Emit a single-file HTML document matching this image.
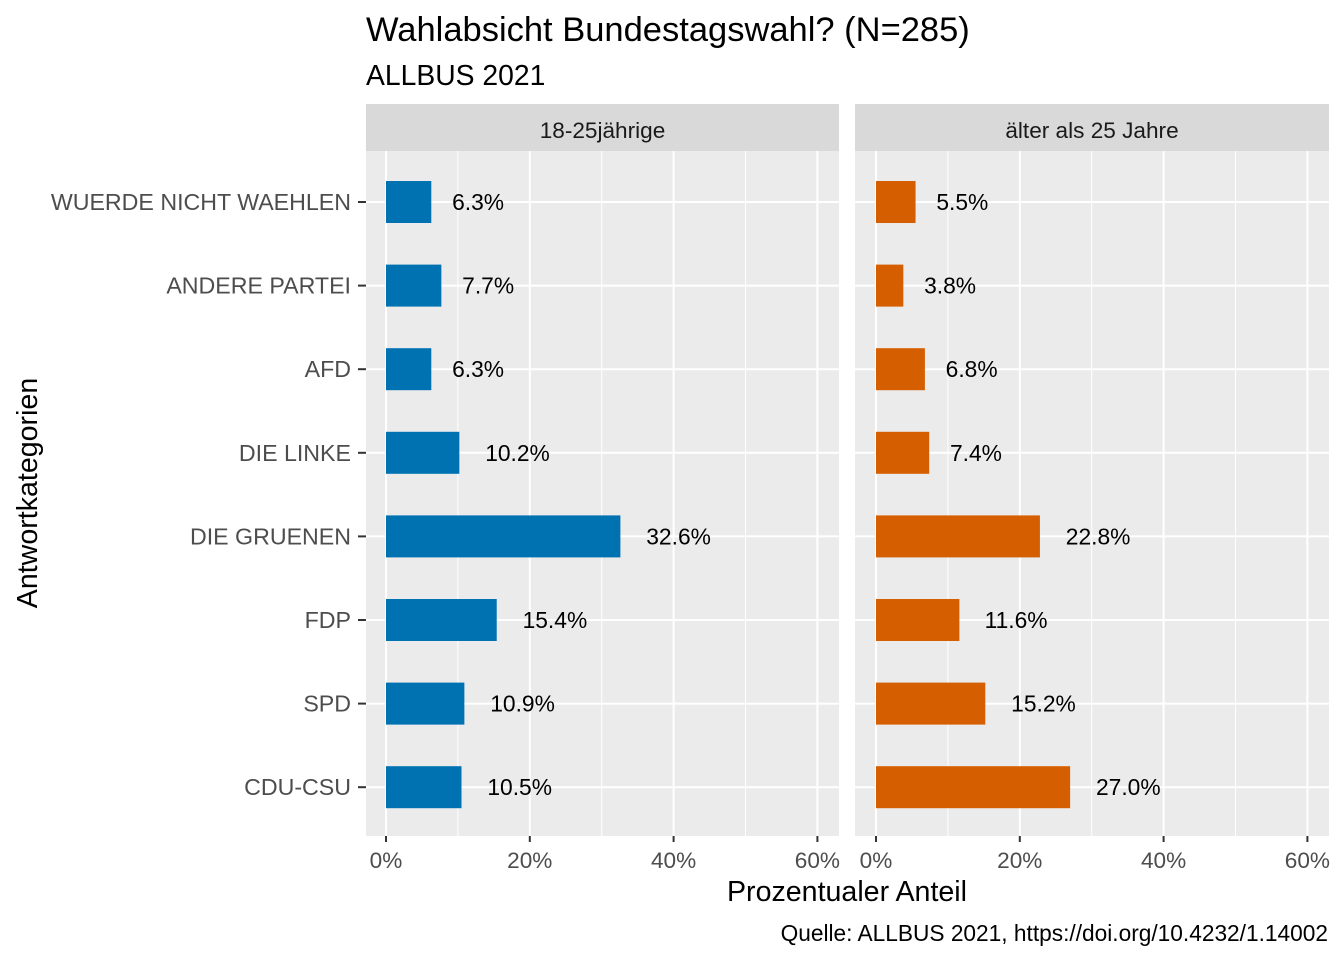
<!DOCTYPE html>
<html><head><meta charset="utf-8"><style>
body{margin:0;background:#fff}
svg text{font-family:"Liberation Sans",Arial,sans-serif}
</style></head><body>
<svg id="c" width="1344" height="960" xmlns="http://www.w3.org/2000/svg">
<text x="366" y="41" font-size="34.5" fill="#000">Wahlabsicht Bundestagswahl? (N=285)</text>
<text x="366" y="85" font-size="28.3" fill="#000">ALLBUS 2021</text>
<text transform="translate(37,493) rotate(-90)" text-anchor="middle" font-size="28.6">Antwortkategorien</text>
<text x="847" y="901" text-anchor="middle" font-size="28.6">Prozentualer Anteil</text>
<text x="1328" y="941" text-anchor="end" font-size="22.7">Quelle: ALLBUS 2021, https://doi.org/10.4232/1.14002</text>
</svg>
<script>
const categories=["WUERDE NICHT WAEHLEN","ANDERE PARTEI","AFD","DIE LINKE","DIE GRUENEN","FDP","SPD","CDU-CSU"];
const panels=["18-25jährige","älter als 25 Jahre"];
const young=[6.3,7.7,6.3,10.2,32.6,15.4,10.9,10.5];
const old=[5.5,3.8,6.8,7.4,22.8,11.6,15.2,27.0];
const ticks=[0,20,40,60];
const tickLabels=["0%","20%","40%","60%"];
const minorTicks=[10,30,50];
const colors=["#0072B2","#D55E00"];
const svg=document.getElementById('c');const NS="http://www.w3.org/2000/svg";
function mk(t,a,p){const e=document.createElementNS(NS,t);for(const k in a)e.setAttribute(k,a[k]);(p||svg).appendChild(e);return e;}
const panelDefs=[{x0:366,x1:839,zero:386},{x0:855,x1:1329,zero:876}];
const pxPer=7.19;
const yTop=151,yBot=836;
function yPos(i){return 202+i*83.6;}
[young,old].forEach((vals,p)=>{
  const d=panelDefs[p];const xs=v=>d.zero+v*pxPer;
  const g=mk('g',{});
  
  
  const st=mk('rect',{x:d.x0,y:104,width:d.x1-d.x0,height:47,fill:'#d9d9d9'},g);
  
  
  const stt=mk('text',{x:(d.x0+d.x1)/2,y:138,'text-anchor':'middle','font-size':22.6,fill:'#1a1a1a'},g);stt.textContent=panels[p];
  
  
  const bg=mk('rect',{x:d.x0,y:yTop,width:d.x1-d.x0,height:yBot-yTop,fill:'#ebebeb'},g);
  
  
  minorTicks.forEach(t=>{mk('line',{x1:xs(t),x2:xs(t),y1:yTop,y2:yBot,stroke:'#fff','stroke-width':1},g);});
  ticks.forEach((t,i)=>{mk('line',{x1:xs(t),x2:xs(t),y1:yTop,y2:yBot,stroke:'#fff','stroke-width':2},g);
    mk('line',{x1:xs(t),x2:xs(t),y1:yBot,y2:yBot+6,stroke:'#333','stroke-width':2},g);
    const tl=mk('text',{x:xs(t),y:yBot+32,'text-anchor':'middle','font-size':22.6,fill:'#4d4d4d'},g);tl.textContent=tickLabels[i];
    
    });
  categories.forEach((c,i)=>{mk('line',{x1:d.x0,x2:d.x1,y1:yPos(i),y2:yPos(i),stroke:'#fff','stroke-width':2},g);});
  vals.forEach((v,i)=>{
    const b=mk('rect',{x:xs(0),y:yPos(i)-21,width:xs(v)-xs(0),height:42,fill:colors[p]},g);
    
    
    const lab=v.toFixed(1)+'%';
    const t=mk('text',{x:xs(v),y:yPos(i)+8,'font-size':22.8,fill:'#000'},g);t.textContent=lab;
    
    
    const w=t.getComputedTextLength()||lab.length*13;t.setAttribute('x',xs(v)+0.4*w);
  });
});
categories.forEach((c,i)=>{
  mk('line',{x1:358,x2:366,y1:yPos(i),y2:yPos(i),stroke:'#333','stroke-width':2});
  const t=mk('text',{x:351,y:yPos(i)+8,'text-anchor':'end','font-size':23.2,fill:'#4d4d4d'});t.textContent=c;
  
  
});
</script>
</body></html>
